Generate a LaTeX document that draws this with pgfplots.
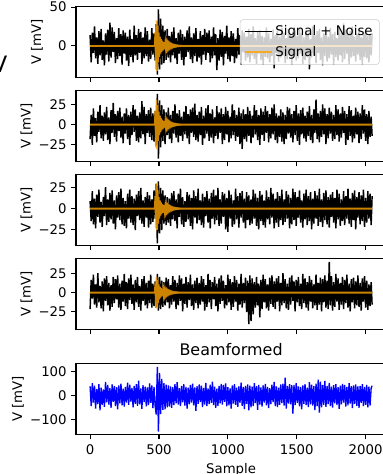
\documentclass[border=0pt]{standalone}
\usepackage{fontspec}
\setmainfont{DejaVu Sans}
\usepackage{pgfplots}
\usepackage{pgfplotstable}
\pgfplotsset{compat=1.18}
\definecolor{sigorange}{HTML}{FFA500}

\pgfplotstableread{
x n1 n2 n3 n4 b
0 14 -18 9 -22 38
8 -21 12 -15 17 -45
16 17 -25 21 -8 52
24 -9 20 -19 24 -30
32 25 -14 12 -16 41
40 -16 8 -24 11 -55
48 11 -22 17 -20 28
56 -23 16 -10 26 -36
64 19 -9 23 -13 47
72 -12 24 -17 9 -62
80 22 -17 8 -21 33
88 -18 11 -22 15 -40
96 7 -20 14 -25 25
104 -25 15 -9 19 -48
112 16 -12 26 -11 57
120 -11 22 -20 22 -29
128 21 -19 11 -17 44
136 -20 9 -16 13 -38
144 30 -24 19 -24 31
152 -15 18 -13 10 -52
160 24 -10 22 -19 46
168 -8 27 -18 21 -27
176 18 -15 10 -14 39
184 -22 13 -25 18 -44
192 10 -21 16 -9 35
200 -17 17 -11 23 -58
208 23 -8 20 -20 42
216 -13 21 -14 12 -33
224 15 -16 24 -23 50
232 -24 10 -19 16 -41
240 20 -23 13 -12 29
248 -10 14 -21 25 -47
256 17 -11 9 -18 36
264 -19 20 -24 14 -30
272 12 -18 18 -22 54
280 -26 12 -12 19 -39
288 21 -25 23 -10 45
296 -14 16 -17 24 -26
304 9 -13 15 -15 32
312 -21 24 -20 11 -50
320 26 -9 12 -23 40
328 -12 19 -26 17 -35
336 14 -20 17 -13 48
344 -18 11 -9 21 -43
352 22 -22 21 -19 62
360 -9 15 -14 9 -37
368 18 -17 25 -24 30
376 -23 29 -18 18 -56
384 11 -12 10 -11 43
392 -16 22 -22 22 -28
400 24 -24 14 -17 37
408 -13 13 -11 13 -46
416 19 -10 20 -21 34
424 -20 18 -23 16 -40
432 8 -15 16 -14 51
440 -17 21 -19 24 -31
448 23 -19 11 -20 42
456 -11 14 -16 12 -53
464 16 -21 22 -18 36
472 -19 17 -12 15 -44
480 28 -26 30 -20 -80
488 -37 38 -42 25 120
496 47 -42 33 -24 -152
504 -30 30 -30 21 95
512 35 -28 25 -22 -78
520 -24 24 -26 16 70
528 26 -20 22 -19 -60
536 -22 19 -18 14 52
544 20 -24 16 -17 -58
552 -18 15 -20 20 45
560 22 -13 14 -13 -50
568 -15 21 -17 18 42
576 13 -18 12 -21 -47
584 -21 12 -21 10 38
592 18 -23 19 -16 -52
600 -12 17 -13 22 35
608 24 -11 21 -12 -40
616 -16 25 -15 17 48
624 10 -16 11 -22 -33
632 -23 14 -24 13 56
640 17 -22 18 -17 -38
648 -10 18 -10 23 31
656 21 -14 24 -11 -45
664 -18 10 -19 19 40
672 15 -20 14 -25 -29
680 -25 16 -22 12 47
688 12 -12 9 -15 -42
696 -14 23 -16 21 36
704 20 -17 20 -20 -55
712 -8 13 -13 14 33
720 25 -24 17 -10 -37
728 -17 19 -21 24 44
736 11 -10 13 -18 -30
744 -22 21 -25 11 50
752 16 -15 22 -23 -41
760 -13 26 -11 16 34
768 23 -19 15 -14 -64
776 -20 12 -18 20 39
784 9 -21 24 -21 -35
792 -15 16 -14 13 46
800 19 -13 10 -16 -28
808 -24 22 -20 22 41
816 14 -25 18 -12 -49
824 -11 11 -23 18 32
832 22 -17 14 -24 -38
840 -18 20 -9 10 53
848 17 -11 21 -19 -44
856 -9 24 -17 25 30
864 20 -20 12 -13 -36
872 -21 14 -24 17 45
880 12 -16 19 -22 -31
888 -16 19 -12 14 58
896 24 -23 23 -9 -40
904 -12 9 -19 21 37
912 15 -14 16 -18 -52
920 -31 23 -14 12 29
928 10 -18 25 -25 -43
936 -19 15 -21 19 40
944 21 -10 11 -15 -33
952 -14 20 -18 23 49
960 18 -24 20 -11 -38
968 -25 13 -10 16 44
976 13 -19 18 -21 -27
984 -10 22 -25 10 51
992 26 -12 13 -17 -46
1000 -17 17 -28 24 35
1008 11 -22 22 -13 -41
1016 -20 10 -12 18 30
1024 19 -17 17 -23 -55
1032 -13 25 -22 14 42
1040 16 -13 10 -19 -34
1048 -22 18 -19 22 47
1056 9 -20 24 -12 -39
1064 -16 12 -13 17 33
1072 23 -15 15 -24 -48
1080 -11 21 -23 12 38
1088 14 -24 19 -16 -31
1096 -24 14 -11 25 54
1104 20 -30 21 -20 -43
1112 -8 19 -17 13 36
1120 17 -18 12 -14 -57
1128 -19 13 -24 20 40
1136 12 -21 20 -26 -35
1144 -15 22 -14 16 46
1152 22 -14 16 -42 -62
1160 -21 17 -20 23 41
1168 15 -23 11 -38 -50
1176 -12 11 -18 19 37
1184 25 -16 23 -29 -45
1192 -17 24 -12 14 52
1200 10 -12 18 -20 -32
1208 -23 18 -21 21 39
1216 18 -19 13 -17 -60
1224 -10 12 -25 12 44
1232 20 -25 21 -33 -38
1240 -18 20 -15 17 34
1248 13 -13 17 -22 -47
1256 -24 16 -20 24 42
1264 11 -20 10 -13 -30
1272 -14 23 -23 18 49
1280 24 -10 22 -21 -41
1288 -16 17 -13 11 36
1296 16 -22 14 -24 -53
1304 -21 13 -19 20 31
1312 9 -17 25 -15 -36
1320 -13 21 -11 23 45
1328 21 -12 18 -19 -28
1336 -29 25 -24 15 57
1344 14 -19 12 -22 -44
1352 -9 14 -17 19 38
1360 19 -23 20 -12 -49
1368 -20 11 -22 22 33
1376 12 -15 15 -25 -39
1384 -15 19 -14 13 46
1392 23 -21 23 -17 -32
1400 -12 15 -20 26 50
1408 17 -24 11 -14 -42
1416 -22 12 -16 18 75
1424 10 -18 21 -21 -55
1432 -17 22 -12 12 40
1440 22 -11 17 -23 -34
1448 -11 20 -24 20 47
1456 15 -16 13 -16 -37
1464 -24 13 -19 23 43
1472 18 -22 24 -11 -76
1480 -13 17 -14 15 44
1488 20 -13 20 -25 -40
1496 -19 24 -21 17 52
1504 13 -20 14 -13 -31
1512 -16 14 -11 21 38
1520 24 -25 22 -18 -46
1528 -10 18 -17 12 36
1536 16 -12 10 -22 -58
1544 -23 21 -23 25 42
1552 11 -17 18 -14 -35
1560 -18 11 -13 19 48
1568 21 -21 23 -20 -40
1576 -14 16 -20 14 33
1584 17 -14 15 -24 -49
1592 -30 23 -15 22 56
1600 9 -19 20 -12 -37
1608 -15 12 -25 17 45
1616 25 -23 12 -21 -42
1624 -12 19 -18 11 39
1632 14 -10 21 -17 -61
1640 -22 31 -12 24 50
1648 19 -18 16 -23 -45
1656 -9 14 -21 13 66
1664 22 -22 24 -16 -72
1672 -18 17 -16 20 58
1680 11 -15 11 -25 -50
1688 -25 25 -22 18 44
1696 16 -12 19 -13 -39
1704 -13 20 -14 23 61
1712 20 -24 22 -20 -48
1720 -20 13 -19 16 40
1728 12 -17 14 -22 -36
1736 -16 21 -23 41 53
1744 23 -11 17 -17 -44
1752 -11 16 -10 22 37
1760 15 -20 20 -24 -51
1768 -24 12 -17 14 43
1776 18 -18 13 -19 -33
1784 -14 24 -24 25 47
1792 10 -13 23 -12 -40
1800 -19 19 -13 19 35
1808 24 -21 18 -23 -56
1816 -12 14 -21 13 41
1824 17 -16 11 -16 -37
1832 -21 22 -15 21 49
1840 29 -10 21 -22 -30
1848 -17 17 -20 17 44
1856 21 -25 15 -14 -47
1864 -10 13 -12 24 36
1872 14 -19 24 -20 -41
1880 -23 23 -18 12 52
1888 19 -14 12 -25 -34
1896 -15 18 -22 18 39
1904 25 -22 19 -13 -53
1912 -13 11 -14 20 42
1920 12 -17 22 -21 -35
1928 -20 21 -25 15 46
1936 16 -12 14 -17 -43
1944 -11 16 -11 23 38
1952 22 -23 20 -19 -52
1960 -18 14 -19 13 40
1968 11 -18 16 -24 -31
1976 -24 24 -15 19 48
1984 18 -11 23 -12 -45
1992 -14 19 -22 22 36
2000 20 -20 13 -20 -39
2008 -16 13 -17 16 44
2016 13 -24 21 -23 -50
2024 -21 17 -12 11 37
2032 15 -15 18 -18 -42
2040 -12 10 -20 14 30
2047 16 -14 15 -16 41
}\noisetab

\pgfplotstableread{
x s1 s2 s3 s4
0 0 0 0 0
470 0 0 0 0
474 18 17 15 12
478 -30 -28 -24 -19
482 33 31 31 21
486 -32 -30 -26 -21
490 26 24 22 17
494 -21 -20 -18 -14
498 17 16 14 11
502 -14 -13 -12 -9
506 12 11 10 7.8
510 -10 -9.3 -8.5 -6.5
514 8.7 8.1 7.4 5.7
518 -7.6 -7.1 -6.5 -4.9
522 6.7 6.2 5.7 4.4
526 -5.9 -5.5 -5.0 -3.8
530 5.2 4.8 4.4 3.4
534 -4.6 -4.3 -3.9 -3.0
538 4.1 3.8 3.5 2.7
542 -3.7 -3.4 -3.1 -2.4
546 3.3 3.1 2.8 2.1
550 -3.0 -2.8 -2.6 -2.0
554 2.7 2.5 2.3 1.8
558 -2.4 -2.2 -2.0 -1.6
562 2.2 2.0 1.9 1.4
566 -2.0 -1.9 -1.7 -1.3
570 1.8 1.7 1.5 1.2
574 -1.6 -1.5 -1.4 -1.0
578 1.5 1.4 1.3 1.0
582 -1.3 -1.2 -1.1 -0.85
586 1.2 1.1 1.0 0.8
590 -1.1 -1.0 -0.9 -0.7
594 1.0 0.9 0.85 0.65
598 -0.9 -0.8 -0.75 -0.6
602 0.8 0.75 0.7 0.52
606 -0.7 -0.65 -0.6 -0.46
610 0.65 0.6 0.55 0.42
614 -0.6 -0.55 -0.5 -0.39
618 0.55 0.5 0.47 0.36
622 -0.5 -0.45 -0.42 -0.33
626 0.45 0.4 0.38 0.3
630 -0.4 -0.37 -0.34 -0.26
634 0.35 0.33 0.3 0.23
638 -0.3 -0.28 -0.26 -0.2
642 0.27 0.25 0.23 0.18
646 -0.24 -0.22 -0.2 -0.16
650 0.2 0.19 0.17 0.13
654 -0.18 -0.17 -0.15 -0.12
658 0.15 0.14 0.13 0.1
662 -0.12 -0.11 -0.1 -0.08
666 0.1 0.09 0.08 0.06
670 0 0 0 0
2047 0 0 0 0
}\sigtab

\pgfplotsset{
  panel/.style={
    scale only axis,
    width=232.65bp, height=53.625bp,
    xmin=-102.35, xmax=2149.35,
    xtick={0,500,1000,1500,2000},
    xticklabels={},
    tick align=outside,
    tick pos=left,
    major tick length=3.5bp,
    every tick/.style={black, line width=0.8bp},
    axis line style={line width=0.8bp, black},
    ticklabel style={font=\fontsize{10}{12}\selectfont},
    label style={font=\fontsize{10}{12}\selectfont},
    ylabel={V [mV]},
    clip=true,
  },
  ylab/.style={ylabel style={at={(axis description cs:0,0.5)}, anchor=center, yshift=#1}},
  sig/.style={sigorange, line width=1.4bp, opacity=0.8},
}

\begin{document}
\begin{tikzpicture}
\node[anchor=base west, inner sep=0pt, font=\fontsize{17}{17}\selectfont] at (-6.3bp,-54bp) {V};

\begin{axis}[panel, ylab=29.25bp, at={(57bp,-4.725bp)}, anchor=north west,
  ymin=-41, ymax=51, ytick={0,50}, yticklabels={0,50},
  legend style={at={(1,0.5)}, anchor=east, xshift=-5bp,
    fill=white, fill opacity=0.8, draw opacity=1, text opacity=1,
    draw=black!20, rounded corners=2bp,
    font=\fontsize{10}{12}\selectfont, inner xsep=3bp, inner ysep=2.5bp, row sep=2.5bp},
  legend cell align=left,
  legend image code/.code={\draw[#1] (0bp,0bp) -- (20bp,0bp);}]
\addplot[black, line width=1.1bp] table[x=x,y=n1]{\noisetab};
\addlegendentry{Signal + Noise}
\addplot[sig] table[x=x,y=s1]{\sigtab};
\addlegendentry{Signal}
\end{axis}

\begin{axis}[panel, ylab=37.1bp, at={(57bp,-67.725bp)}, anchor=north west,
  ymin=-46, ymax=42.5, ytick={-25,0,25}, yticklabels={−25,0,25}]
\addplot[black, line width=1.1bp] table[x=x,y=n2]{\noisetab};
\addplot[sig] table[x=x,y=s2]{\sigtab};
\end{axis}

\begin{axis}[panel, ylab=37.1bp, at={(57bp,-130.725bp)}, anchor=north west,
  ymin=-45, ymax=41.5, ytick={-25,0,25}, yticklabels={−25,0,25}]
\addplot[black, line width=1.1bp] table[x=x,y=n3]{\noisetab};
\addplot[sig] table[x=x,y=s3]{\sigtab};
\end{axis}

\begin{axis}[panel, ylab=37.1bp, at={(57bp,-193.725bp)}, anchor=north west,
  ymin=-49.6, ymax=45.7, ytick={-25,0,25}, yticklabels={−25,0,25}]
\addplot[black, line width=1.1bp] table[x=x,y=n4]{\noisetab};
\addplot[sig] table[x=x,y=s4]{\sigtab};
\end{axis}

\begin{axis}[panel, ylab=43.5bp, at={(57bp,-272.475bp)}, anchor=north west,
  ymin=-165, ymax=135, ytick={-100,0,100}, yticklabels={−100,0,100},
  xticklabels={0,500,1000,1500,2000},
  xlabel={Sample},
  title={Beamformed},
  title style={font=\fontsize{12}{14}\selectfont, yshift=-3.5bp}]
\addplot[blue, line width=1bp] table[x=x,y=b]{\noisetab};
\end{axis}

\pgfresetboundingbox
\path[use as bounding box] (0,0) rectangle (287.25bp,-355.5bp);
\end{tikzpicture}
\end{document}
